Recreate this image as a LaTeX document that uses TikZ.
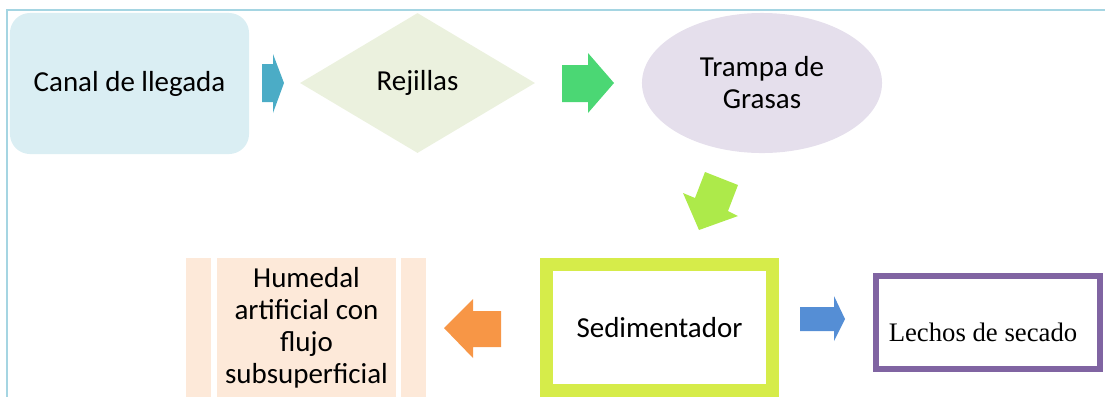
\documentclass[tikz,border=0pt]{standalone}
\usepackage{fontspec}
\setmainfont{Carlito}
\newfontfamily\timesfont{Liberation Serif}
\usetikzlibrary{shapes.geometric}
\definecolor{framecol}{HTML}{A5D5E2}
\definecolor{canalcol}{HTML}{DAEEF3}
\definecolor{rejcol}{HTML}{EBF1DE}
\definecolor{trampacol}{HTML}{E5DFEC}
\definecolor{humcol}{HTML}{FDE9D9}
\definecolor{sedcol}{HTML}{D6EC4A}
\definecolor{lechcol}{HTML}{8064A2}
\definecolor{arrteal}{HTML}{4BACC6}
\definecolor{arrgreen}{HTML}{4BD774}
\definecolor{arrlime}{HTML}{ADEA4A}
\definecolor{arrblue}{HTML}{558ED5}
\definecolor{arrorange}{HTML}{F79646}
\begin{document}
\begin{tikzpicture}[x=0.025cm,y=-0.025cm,
  every node/.style={inner sep=0pt,align=center,font=\fontsize{20.6}{22.75}\selectfont},
  strip/.style={fill=humcol,minimum width=0.625cm,minimum height=3.475cm}]
\useasboundingbox (0,0) rectangle (1105,397);
% frame
\draw[framecol,line width=1.4pt] (1105,10) -- (7,10) -- (7,397);
% top row
\node[fill=canalcol,rounded corners=0.5cm,minimum width=5.975cm,minimum height=3.525cm] (canal) at (129.5,83.5) {Canal de llegada};
\node[diamond,fill=rejcol,minimum width=5.875cm,minimum height=3.5cm] (rej) at (417.5,83) {Rejillas};
\node[ellipse,fill=trampacol,minimum width=6cm,minimum height=3.5cm] (trampa) at (762,83) {Trampa de\\Grasas};
% bottom row
\node[draw=sedcol,line width=0.325cm,minimum width=5.65cm,minimum height=3.15cm] (sed) at (659.5,327.5) {Sedimentador};
\node[draw=lechcol,line width=0.15cm,minimum width=5.6cm,minimum height=2.325cm] (lech) at (988,322.5) {};
\node[font=\timesfont\fontsize{19}{22}\selectfont] (lechtxt) at (983,332) {Lechos de secado};
\node[strip] (hleft) at (198.5,327.5) {};
\node[strip,minimum width=4.475cm] (hum) at (306.5,327.5) {Humedal\\artificial con\\flujo\\subsuperficial};
\node[strip] (hright) at (413.5,327.5) {};
% block arrows
\fill[arrteal] (262,64) -- (273,64) -- (273,54) -- (284,83) -- (273,113) -- (273,102) -- (262,102) -- cycle;
\fill[arrgreen] (562,65) -- (588,65) -- (588,53) -- (614,83) -- (588,113) -- (588,102) -- (562,102) -- cycle;
\fill[arrlime] (705,172) -- (738,185) -- (728,211) -- (738,216) -- (699,230) -- (683,193) -- (695,198) -- cycle;
\fill[arrblue] (800,307) -- (834,307) -- (834,296) -- (845,319) -- (834,341) -- (834,331) -- (800,331) -- cycle;
\fill[arrorange] (501,311) -- (473,311) -- (473,299) -- (444,328) -- (473,358) -- (473,347) -- (501,347) -- cycle;
\end{tikzpicture}
\end{document}
